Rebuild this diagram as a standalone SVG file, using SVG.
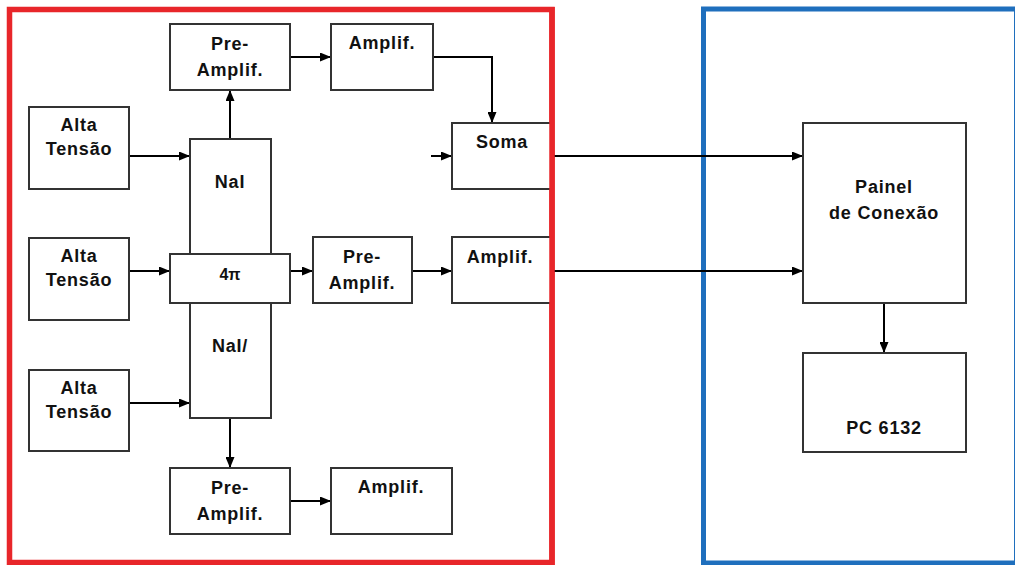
<svg xmlns="http://www.w3.org/2000/svg" width="1015" height="565" viewBox="0 0 1015 565">
  <defs>
    <marker id="arr" markerWidth="11" markerHeight="9" refX="11" refY="4.5" orient="auto" markerUnits="userSpaceOnUse">
      <path d="M0,0 L11,4.5 L0,9 z" fill="#000"/>
    </marker>
    <style>
      .box { fill: #fff; stroke: #333; stroke-width: 2; }
      .t { font-family: "Liberation Sans", Arial, sans-serif; font-weight: bold; font-size: 18px; fill: #111; text-anchor: middle; letter-spacing: 0.8px; }
      .ca { fill: none; stroke: #000; stroke-width: 2; marker-end: url(#arr); }
    </style>
  </defs>
  <rect width="1015" height="565" fill="#fff"/>

  <!-- frames -->
  <g id="frames">
    <rect x="9.5" y="9.5" width="542.5" height="553" fill="none" stroke="#e8262a" stroke-width="5.5"/>
    <rect x="703.5" y="9" width="313" height="554" fill="none" stroke="#1f6fbd" stroke-width="5"/>
  </g>

  <!-- connectors -->
  <g id="connectors">
    <line class="ca" x1="129" y1="156" x2="190" y2="156"/>
    <line class="ca" x1="230" y1="139" x2="230" y2="90"/>
    <line class="ca" x1="290" y1="57" x2="331" y2="57"/>
    <polyline class="ca" points="433,57 492,57 492,123"/>
    <line class="ca" x1="431" y1="156" x2="452" y2="156"/>
    <line class="ca" x1="554" y1="156" x2="803" y2="156"/>
    <line class="ca" x1="129" y1="271" x2="170" y2="271"/>
    <line class="ca" x1="290" y1="271" x2="313" y2="271"/>
    <line class="ca" x1="412" y1="271" x2="452" y2="271"/>
    <line class="ca" x1="554" y1="271" x2="803" y2="271"/>
    <line class="ca" x1="129" y1="403" x2="190" y2="403"/>
    <line class="ca" x1="230" y1="418" x2="230" y2="468"/>
    <line class="ca" x1="290" y1="501" x2="331" y2="501"/>
    <line class="ca" x1="884" y1="303" x2="884" y2="353"/>
  </g>

  <g id="nai-top">
    <rect class="box" x="190" y="139" width="81" height="140"/>
    <text class="t" x="230" y="188">NaI</text>
  </g>
  <g id="nai-bottom">
    <rect class="box" x="190" y="280" width="81" height="138"/>
    <text class="t" x="230" y="352">NaI/</text>
  </g>
  <g id="fourpi">
    <rect class="box" x="170" y="254" width="120" height="49"/>
    <text class="t" x="230" y="280" style="font-size:16px;letter-spacing:0">4π</text>
  </g>

  <g id="alta1">
    <rect class="box" x="29" y="107" width="100" height="82"/>
    <text class="t" x="79" y="131">Alta</text>
    <text class="t" x="79" y="155">Tensão</text>
  </g>
  <g id="alta2">
    <rect class="box" x="29" y="238" width="100" height="82"/>
    <text class="t" x="79" y="262">Alta</text>
    <text class="t" x="79" y="286">Tensão</text>
  </g>
  <g id="alta3">
    <rect class="box" x="29" y="370" width="100" height="81"/>
    <text class="t" x="79" y="394">Alta</text>
    <text class="t" x="79" y="418">Tensão</text>
  </g>

  <g id="preamp-top">
    <rect class="box" x="170" y="24" width="120" height="66"/>
    <text class="t" x="230" y="50">Pre-</text>
    <text class="t" x="230" y="76">Amplif.</text>
  </g>
  <g id="amp-top">
    <rect class="box" x="331" y="24" width="102" height="66"/>
    <text class="t" x="382" y="49">Amplif.</text>
  </g>
  <g id="soma">
    <rect class="box" x="452" y="123" width="100" height="66"/>
    <text class="t" x="502" y="148">Soma</text>
  </g>
  <g id="preamp-mid">
    <rect class="box" x="313" y="237" width="99" height="66"/>
    <text class="t" x="362" y="263">Pre-</text>
    <text class="t" x="362" y="289">Amplif.</text>
  </g>
  <g id="amp-mid">
    <rect class="box" x="452" y="237" width="100" height="66"/>
    <text class="t" x="500" y="263">Amplif.</text>
  </g>
  <g id="preamp-bottom">
    <rect class="box" x="170" y="468" width="120" height="66"/>
    <text class="t" x="230" y="494">Pre-</text>
    <text class="t" x="230" y="520">Amplif.</text>
  </g>
  <g id="amp-bottom">
    <rect class="box" x="331" y="468" width="121" height="66"/>
    <text class="t" x="391" y="493">Amplif.</text>
  </g>

  <!-- red right edge drawn over the boxes that touch it -->
  <line x1="552" y1="7" x2="552" y2="565" stroke="#e8262a" stroke-width="5.5"/>

  <g id="painel">
    <rect class="box" x="803" y="123" width="163" height="180"/>
    <text class="t" x="884" y="193">Painel</text>
    <text class="t" x="884" y="219">de Conexão</text>
  </g>
  <g id="pc">
    <rect class="box" x="803" y="353" width="163" height="99"/>
    <text class="t" x="884" y="434">PC 6132</text>
  </g>
</svg>
